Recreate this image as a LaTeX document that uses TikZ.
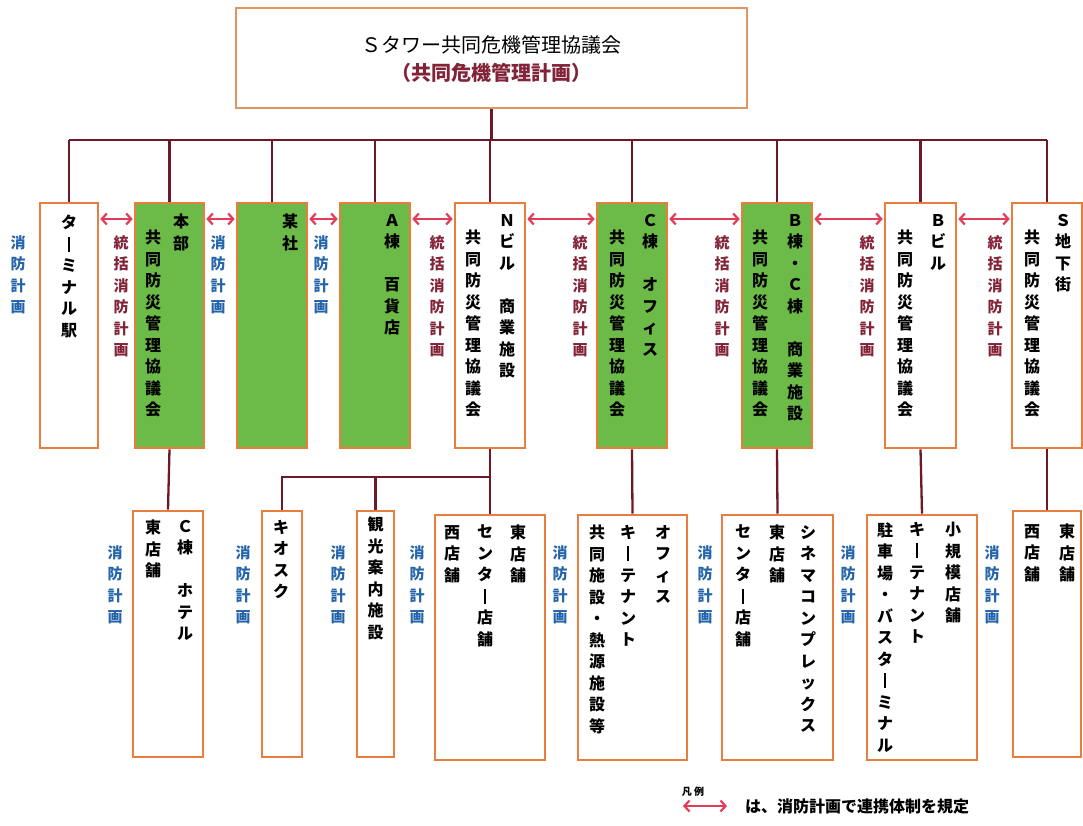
\documentclass[tikz,border=0pt]{standalone}
\usepackage{fontspec}
\setmainfont{Noto Sans CJK JP}
\usetikzlibrary{arrows.meta}
\definecolor{boxgreen}{RGB}{108,186,72}
\definecolor{frame}{RGB}{232,125,62}
\definecolor{topframe}{RGB}{225,150,95}
\definecolor{linkred}{RGB}{110,25,40}
\definecolor{arrowred}{RGB}{226,60,90}
\definecolor{planblue}{RGB}{35,100,170}
\definecolor{planred}{RGB}{130,35,55}
% one column of vertical text, top to bottom
\newcommand\tate[1]{\vbox{\baselineskip=21.5pt\lineskiplimit=-30pt\tatestep#1\relax}}
\def\tatestep#1{\ifx\relax#1\else\hbox to 1em{\hss#1\hss}\expandafter\tatestep\fi}
\newcommand\nobashi{\rule[-0.08em]{0.16em}{0.92em}}

\begin{document}
\begin{tikzpicture}[x=1pt,y=-1pt,
    box/.style={draw=frame,line width=2.6pt,fill=white,minimum width=70,
                minimum height=245,inner sep=0pt},
    greenbox/.style={box,fill=boxgreen},
    col/.style={anchor=north,inner sep=0pt,font=\bfseries\fontsize{16}{16}\selectfont},
    fireplan/.style={anchor=north,inner sep=0pt,text=planblue,
                     font=\bfseries\fontsize{15}{15}\selectfont},
    jointplan/.style={fireplan,text=planred},
    link/.style={draw=linkred,line width=2.3pt},
    twoway/.style={draw=arrowred,line width=2.2pt,
                   {Straight Barb[length=5pt,width=11pt]}-{Straight Barb[length=5pt,width=11pt]},
                   shorten <=1pt,shorten >=1pt}]
    \useasboundingbox (0,0) rectangle (1083,825);

    % council
    \node[draw=topframe,line width=2.2pt,fill=white,minimum width=511,minimum height=100]
        (council) at (491.5,58) {};
    \node[font=\fontsize{20}{20}\selectfont] (ctitle) at (491,45) {Ｓタワー共同危機管理協議会};
    \node[font=\bfseries\fontsize{20}{20}\selectfont,text=planred] (csub) at (491,73)
        {（共同危機管理計画）};

    % upper row
    \node[box,minimum width=58] (terminal) at (69,325.5) {};
    \node[greenbox,minimum width=69] (honbu) at (169.5,325.5) {};
    \node[greenbox] (bousha) at (272,325.5) {};
    \node[greenbox] (abldg) at (375,325.5) {};
    \node[box] (nbldg) at (490,325.5) {};
    \node[greenbox] (cbldg) at (632,325.5) {};
    \node[greenbox] (bcbldg) at (777,325.5) {};
    \node[box,minimum width=71] (bbldg) at (920.5,325.5) {};
    \node[box] (chika) at (1047,325.5) {};

    \node[col] (terminal-a) at (69,215) {\tate{タ\nobashi ミナル駅}};
    \node[col] (honbu-a) at (181,214) {\tate{本部}};
    \node[col] (honbu-b) at (153,230) {\tate{共同防災管理協議会}};
    \node[col] (bousha-a) at (290,214) {\tate{某社}};
    \node[col] (abldg-a) at (392,214) {\tate{Ａ棟　百貨店}};
    \node[col] (nbldg-a) at (507,214) {\tate{Ｎビル　商業施設}};
    \node[col] (nbldg-b) at (473,230) {\tate{共同防災管理協議会}};
    \node[col] (cbldg-a) at (650,214) {\tate{Ｃ棟　オフィス}};
    \node[col] (cbldg-b) at (617,230) {\tate{共同防災管理協議会}};
    \node[col] (bcbldg-a) at (795,214) {\tate{Ｂ棟・Ｃ棟　商業施設}};
    \node[col] (bcbldg-b) at (760,230) {\tate{共同防災管理協議会}};
    \node[col] (bbldg-a) at (938,214) {\tate{Ｂビル}};
    \node[col] (bbldg-b) at (905,230) {\tate{共同防災管理協議会}};
    \node[col] (chika-a) at (1063,214) {\tate{Ｓ地下街}};
    \node[col] (chika-b) at (1032,230) {\tate{共同防災管理協議会}};

    \foreach \x in {18,218,321}
        \node[fireplan] (plan-\x) at (\x,235) {\tate{消防計画}};
    \foreach \x in {121,437,580,722,867,995}
        \node[jointplan] (joint-\x) at (\x,235) {\tate{統括消防計画}};

    % lower row
    \node[box,minimum height=246] (hotel) at (168,634) {};
    \node[box,minimum width=40,minimum height=246] (kiosk) at (282,634) {};
    \node[box,minimum width=37,minimum height=246] (kanko) at (375.5,634) {};
    \node[box,minimum width=110] (nishi) at (490,637.5) {};
    \node[box,minimum width=109] (office) at (632.5,637.5) {};
    \node[box,minimum width=111] (cinema) at (777.5,637.5) {};
    \node[box,minimum width=110] (parking) at (922,637.5) {};
    \node[box,minimum width=68,minimum height=246] (shita) at (1047,634) {};

    \node[col] (hotel-a) at (185,520) {\tate{Ｃ棟　ホテル}};
    \node[col] (hotel-b) at (153,520) {\tate{東店舗}};
    \node[col] (kiosk-a) at (281,520) {\tate{キオスク}};
    \node[col] (kanko-a) at (375.5,517) {\tate{観光案内施設}};
    \node[col] (nishi-a) at (518,525) {\tate{東店舗}};
    \node[col] (nishi-b) at (485,525) {\tate{センタ\nobashi 店舗}};
    \node[col] (nishi-c) at (452,525) {\tate{西店舗}};
    \node[col] (office-a) at (663,525) {\tate{オフィス}};
    \node[col] (office-b) at (628,525) {\tate{キ\nobashi テナント}};
    \node[col] (office-c) at (597,525) {\tate{共同施設・熱源施設等}};
    \node[col] (cinema-a) at (808,525) {\tate{シネマコンプレックス}};
    \node[col] (cinema-b) at (777,525) {\tate{東店舗}};
    \node[col] (cinema-c) at (743,525) {\tate{センタ\nobashi 店舗}};
    \node[col] (parking-a) at (953,522) {\tate{小規模店舗}};
    \node[col] (parking-b) at (917,522) {\tate{キ\nobashi テナント}};
    \node[col] (parking-c) at (885,522) {\tate{駐車場・バスタ\nobashi ミナル}};
    \node[col] (shita-a) at (1067,524) {\tate{東店舗}};
    \node[col] (shita-b) at (1032,524) {\tate{西店舗}};

    \foreach \x in {115,243,338,417,560,705,848,992}
        \node[fireplan] (lplan-\x) at (\x,545) {\tate{消防計画}};

    % connectors
    \coordinate (busrow) at (0,140);
    \coordinate (nrow) at (0,477);
    \coordinate (arrowrow) at (0,219);
    \draw[link] (council.south) -- (council.south |- busrow);
    \draw[link] (terminal.north |- busrow) -- (chika.north |- busrow);
    \foreach \b in {terminal,honbu,bousha,abldg,nbldg,cbldg,bcbldg,bbldg,chika}
        \draw[link] (\b.north |- busrow) -- (\b.north);
    \draw[link] (honbu.south) -- (hotel.north);
    \draw[link] (nbldg.south) -- (nishi.north);
    \draw[link] (kiosk.north) -- (kiosk.north |- nrow) -- (nbldg.south |- nrow);
    \draw[link] (kanko.north) -- (kanko.north |- nrow);
    \draw[link] (cbldg.south) -- (office.north);
    \draw[link] (bcbldg.south) -- (cinema.north);
    \draw[link] (bbldg.south) -- (parking.north);
    \draw[link] (chika.south) -- (shita.north);

    \foreach \a/\b in {terminal/honbu,honbu/bousha,bousha/abldg,abldg/nbldg,
                       nbldg/cbldg,cbldg/bcbldg,bcbldg/bbldg,bbldg/chika}
        \draw[twoway] (\a.east |- arrowrow) -- (\b.west |- arrowrow);

    % legend
    \node[font=\bfseries\fontsize{10}{10}\selectfont] (legend) at (693,792) {凡 例};
    \coordinate (legl) at (682,806);
    \coordinate (legr) at (728,806);
    \draw[twoway] (legl) -- (legr);
    \node[anchor=west,inner sep=0pt,font=\bfseries\fontsize{16}{16}\selectfont]
        (legtext) at (745,806) {は、消防計画で連携体制を規定};
\end{tikzpicture}
\end{document}
